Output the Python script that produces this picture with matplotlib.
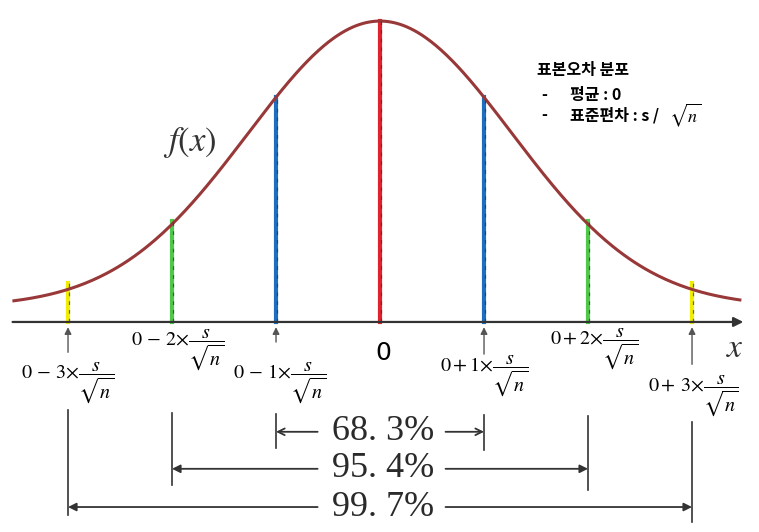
import numpy as np
import matplotlib
matplotlib.use("Agg")
import matplotlib.pyplot as plt

plt.rcParams['mathtext.fontset'] = 'stix'

# data: sigma multiples, line colours, coverage percentages
ks = [-3, -2, -1, 0, 1, 2, 3]
line_colors = ['#f2ee00', '#4fc94a', '#1d6fbf', '#e3212b', '#1d6fbf', '#4fc94a', '#f2ee00']
line_over = [0.02, 0.01, 0.0, 0.0, 0.0, 0.01, 0.02]   # how far each line pokes above the curve
tick_labels = [r'$0\,-\,3{\times}\dfrac{s}{\sqrt{n}}$', r'$0\,-\,2{\times}\dfrac{s}{\sqrt{n}}$',
               r'$0\,-\,1{\times}\dfrac{s}{\sqrt{n}}$', '0',
               r'$0+1{\times}\dfrac{s}{\sqrt{n}}$', r'$0+2{\times}\dfrac{s}{\sqrt{n}}$',
               r'$0+\,3{\times}\dfrac{s}{\sqrt{n}}$']
coverage = ['68. 3%', '95. 4%', '99. 7%']
cov_k = [1, 2, 3]

# curve shape (drawn normal curve sits on a small baseline)
base = 0.05
spread = 1.27

def f(x):
    return base + (1 - base) * np.exp(-x**2 / (2 * spread**2))

# layout
label_y = [-0.203, -0.093, -0.203, -0.103, -0.179, -0.090, -0.246]
label_dx = [0.0, 0.05, 0.03, 0.03, 0.0, 0.06, 0.01]
up_arrows = {-3: -0.110, -1: -0.076, 1: -0.116, 3: -0.150}
bracket = {-3: (-0.292, -0.641), -2: (-0.302, -0.542), -1: (-0.306, -0.419),
           1: (-0.309, -0.425), 2: (-0.312, -0.558), 3: (-0.332, -0.664)}
row_y = [-0.365, -0.488, -0.615]
curve_col = '#983838'

fig = plt.figure(figsize=(7.59, 5.32), dpi=100)
ax = fig.add_axes([0, 0, 1, 1])
ax.set_xlim(-3.654, 3.644)
ax.set_ylim(-0.698, 1.07)
ax.axis('off')

# x axis
ax.annotate('', xy=(3.52, 0), xytext=(-3.56, 0),
            arrowprops=dict(arrowstyle='-|>', color='#333333', lw=1.6, mutation_scale=14))
ax.text(3.41, -0.086, r'$x$', fontsize=24, ha='center', va='center', color='#333333')

# curve
xs = np.linspace(-3.52, 3.46, 400)
ax.plot(xs, f(xs), color=curve_col, lw=2.2, zorder=3)
ax.text(-1.83, 0.595, r'$f(x)$', fontsize=25, ha='center', va='center', color='#333333')

# vertical lines
for k, c, o in zip(ks, line_colors, line_over):
    top = f(k) + o
    ax.plot([k, k], [0, top], color=c, lw=3, zorder=2)
    ax.plot([k + 0.006, k + 0.006], [0, top], color='#333333', lw=0.9, alpha=0.7,
            dashes=(3, 4), zorder=4)

# labels under the axis
for k, lab, y, dx in zip(ks, tick_labels, label_y, label_dx):
    fs = 18 if lab == '0' else 14.5
    ax.text(k + dx, y, lab, fontsize=fs, ha='center', va='center', color='black')

# small up arrows
for k, yb in up_arrows.items():
    ax.annotate('', xy=(k, -0.008), xytext=(k, yb),
                arrowprops=dict(arrowstyle='-|>', color='#555555', lw=1.0, mutation_scale=10))

# bracket lines
for k, (y0, y1) in bracket.items():
    ax.plot([k, k], [y0, y1], color='#333333', lw=1.2)

# coverage arrows
for lab, k, y in zip(coverage, cov_k, row_y):
    ax.text(0.03, y, lab, fontsize=26, ha='center', va='center', family='Liberation Serif', color='#2a2a2a')
    style = '->' if k == 1 else '-|>'
    ax.annotate('', xy=(-k, y), xytext=(-0.6, y),
                arrowprops=dict(arrowstyle=style, color='#333333', lw=1.3, mutation_scale=12,
                                shrinkA=0, shrinkB=0))
    ax.annotate('', xy=(k, y), xytext=(0.63, y),
                arrowprops=dict(arrowstyle=style, color='#333333', lw=1.3, mutation_scale=12,
                                shrinkA=0, shrinkB=0))

# note box
kr = ['Noto Sans CJK KR', 'DejaVu Sans']
ax.text(1.51, 0.837, '표본오차 분포', fontsize=11.5, fontweight='bold', family=kr, va='center')
ax.text(1.55, 0.754, '-', fontsize=11.5, fontweight='bold', family=kr, va='center')
ax.text(1.83, 0.754, '평균 : 0', fontsize=11.5, fontweight='bold', family=kr, va='center')
ax.text(1.55, 0.688, '-', fontsize=11.5, fontweight='bold', family=kr, va='center')
ax.text(1.83, 0.688, '표준편차 : s /', fontsize=11.5, fontweight='bold', family=kr, va='center')
ax.text(2.78, 0.688, r'$\sqrt{n}$', fontsize=13, va='center')

fig.savefig('out.png', dpi=100)
